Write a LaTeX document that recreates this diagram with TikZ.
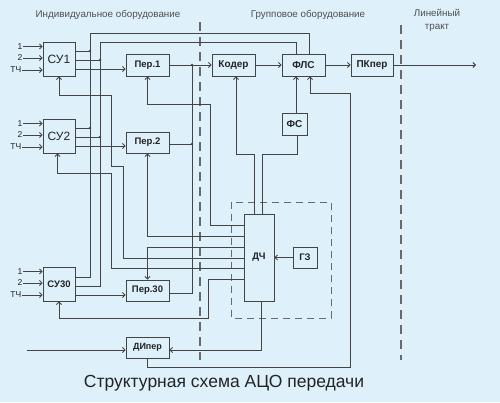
\documentclass[tikz,border=0pt]{standalone}
\usepackage{fontspec}
\setmainfont{Liberation Sans}
\usetikzlibrary{arrows.meta}
\definecolor{bg}{RGB}{222,240,250}
\definecolor{lc}{RGB}{68,68,68}
\definecolor{tc}{RGB}{35,35,35}
\begin{document}
\begin{tikzpicture}[x=1pt,y=-1pt,
  box/.style={draw=lc, line width=0.9pt, fill=bg, inner sep=0pt, text=tc,
    font=\bfseries\fontsize{9.5}{10}\selectfont},
  ln/.style={draw=lc, line width=0.9pt},
  arr/.style={ln, -{Straight Barb[length=2.5pt,width=5pt]}},
  jdot/.style={circle, fill=lc, inner sep=0pt, minimum size=2.8pt},
  lbl/.style={text=tc, inner sep=0.5pt, font=\fontsize{8.5}{9}\selectfont},
  hdr/.style={text=tc!80, font=\fontsize{9.8}{13}\selectfont, align=center},
  vdash/.style={draw=lc!80, line width=1.1pt, dash pattern=on 9pt off 6pt},
  rdash/.style={draw=lc!80, line width=0.9pt, dash pattern=on 7pt off 5pt}]
\useasboundingbox (0,0) rectangle (500,402);
\fill[bg] (0,0) rectangle (500,402);

% section dividers
\draw[vdash] (200,22) -- (200,360);
\draw[vdash] (401,25) -- (401,360);
\draw[rdash] (231,202) rectangle (331,318);

% headers
\node[hdr] (h1) at (108,15) {Индивидуальное оборудование};
\node[hdr] (h2) at (308,15) {Групповое оборудование};
\node[hdr] (h3) at (437,20.5) {Линейный\\тракт};
\node[text=tc, font=\fontsize{17.5}{19}\selectfont] (title) at (224,383) {Структурная схема АЦО передачи};

% boxes
\node[box, minimum width=32pt, minimum height=34pt, font=\fontsize{12}{13}\selectfont] (su1) at (59,59) {СУ1};
\node[box, minimum width=32pt, minimum height=34pt, font=\fontsize{12}{13}\selectfont] (su2) at (59,136) {СУ2};
\node[box, minimum width=32pt, minimum height=34pt] (su30) at (59,284) {СУ30};
\node[box, minimum width=43pt, minimum height=22pt] (per1) at (147.5,65) {Пер.1};
\node[box, minimum width=43pt, minimum height=21pt] (per2) at (147.5,142.5) {Пер.2};
\node[box, minimum width=43pt, minimum height=21pt] (per30) at (147.5,290.5) {Пер.30};
\node[box, minimum width=43pt, minimum height=22pt, font=\bfseries\fontsize{10}{11}\selectfont] (koder) at (233.5,65) {Кодер};
\node[box, minimum width=43pt, minimum height=22pt, font=\bfseries\fontsize{10}{11}\selectfont] (fls) at (303.5,65) {ФЛС};
\node[box, minimum width=42pt, minimum height=22pt, font=\bfseries\fontsize{10}{11}\selectfont] (pk) at (372,65) {ПКпер};
\node[box, minimum width=25pt, minimum height=22pt, font=\bfseries\fontsize{10}{11}\selectfont] (fs) at (294.5,124) {ФС};
\node[box, minimum width=30pt, minimum height=87pt] (dch) at (259,257.5) {ДЧ};
\node[box, minimum width=24pt, minimum height=21pt] (gz) at (305,257.5) {ГЗ};
\node[box, minimum width=43pt, minimum height=21pt, font=\bfseries\fontsize{9}{10}\selectfont] (diper) at (147.5,347.5) {ДИпер};

% inputs of SU
\foreach \s/\cy in {su1/59, su2/136, su30/284}{
  \node[lbl, anchor=east] (\s a) at (23,\cy-12.5) {1};
  \node[lbl, anchor=east] (\s b) at (23,\cy-1) {2};
  \node[lbl, anchor=east] (\s c) at (22,\cy+11) {ТЧ};
  \draw[arr] (\s a.east) -- (\s a.east -| \s.west);
  \draw[arr] (\s b.east) -- (\s b.east -| \s.west);
  \draw[arr] (\s c.east) -- (\s c.east -| \s.west);
}

% SU outputs to the group buses
\draw[ln] ([yshift=7pt]su30.east) -| (90,33) -| ([xshift=5.5pt]fls.north);
\draw[ln] ([yshift=-2pt]su30.east) -| (100,42) -| ([xshift=-7.5pt]fls.north);
\draw[ln] ([yshift=8pt]su1.east) -- (90,51);
\draw[ln] ([yshift=-1pt]su1.east) -- (100,60);
\draw[ln] ([yshift=8pt]su2.east) -- (90,128);
\draw[ln] ([yshift=-1pt]su2.east) -- (100,137);
\node[jdot] (j1) at (90,51) {};
\node[jdot] (j2) at (100,60) {};
\node[jdot] (j3) at (90,128) {};
\node[jdot] (j4) at (100,137) {};

% SU -> Per
\draw[arr] ([yshift=-10pt]su1.east) -- ([yshift=-4pt]per1.west);
\draw[arr] ([yshift=-10pt]su2.east) -- ([yshift=-3.5pt]per2.west);
\draw[arr] ([yshift=-11pt]su30.east) -- ([yshift=-4.5pt]per30.west);

% Per -> Koder bus
\draw[arr] (per1.east) -- (koder.west);
\draw[ln] ([yshift=-2.5pt]per30.east) -| (192,65);
\draw[ln] ([yshift=-1.5pt]per2.east) -- (192,144);
\node[jdot] (j5) at (192,65) {};
\node[jdot] (j6) at (192,144) {};

% group chain
\draw[arr] (koder.east) -- (fls.west);
\draw[arr] (fls.east) -- (pk.west);
\coordinate (out) at (476,65);
\draw[arr] (pk.east) -- (out);
\draw[arr] ([xshift=1.5pt]fs.north) -- ([xshift=-7.5pt]fls.south);
\draw[arr] (diper.south) |- (350,367) |- (310,93) -- ([xshift=6.5pt]fls.south);

% DCh top
\draw[arr] ([xshift=-5pt]dch.north) |- (236,154) -- ([xshift=2.5pt]koder.south);
\draw[ln] ([xshift=3pt]dch.north) |- (297,154) -- ([xshift=2.5pt]fs.south);

% DCh left outputs
\draw[arr] ([yshift=32.5pt]dch.west) -| (210,104) -| (per1.south);
\draw[arr] ([yshift=21.5pt]dch.west) -| (per2.south);
\draw[arr] ([yshift=10.5pt]dch.west) -| (per30.north);
\draw[arr] ([yshift=-0.5pt]dch.west) -| (123,166) -| (111,95) -| (su1.south);
\draw[arr] ([yshift=-10.5pt]dch.west) -| (111,173) -| ([xshift=-1.5pt]su2.south);
\draw[arr] ([yshift=-21.5pt]dch.west) -| (208,318) -| (su30.south);

% GZ -> DCh
\draw[arr] (gz.west) -- (gz.west -| dch.east);

% DCh -> DIper, input to DIper
\draw[arr] ([xshift=2pt]dch.south) |- ([yshift=-2.5pt]diper.east);
\coordinate (inL) at (27,350);
\draw[arr] (inL) -- ([yshift=-2.5pt]diper.west);
\end{tikzpicture}
\end{document}
